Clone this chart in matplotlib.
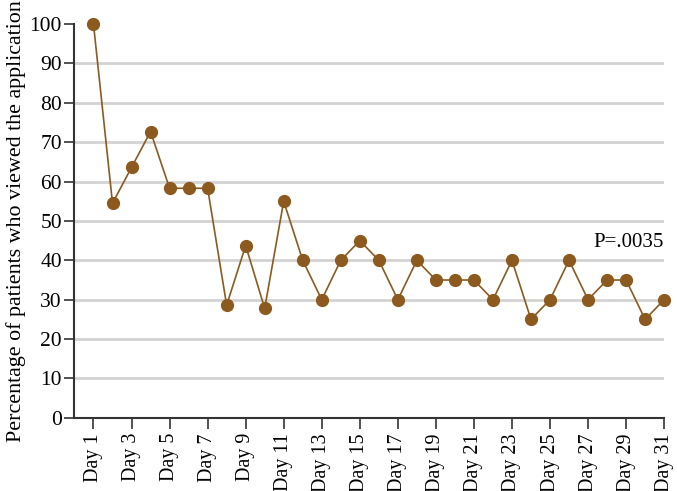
import numpy as np
import matplotlib.pyplot as plt

plt.rcParams['font.family'] = ['Liberation Serif', 'DejaVu Serif']

days = [f'Day {i}' for i in range(1, 32)]
percent = [100, 54.5, 63.6, 72.7, 58.3, 58.3, 58.3, 28.6, 43.75, 27.8,
           55, 40, 30, 40, 45, 40, 30, 40, 35, 35,
           35, 30, 40, 25, 30, 40, 30, 35, 35, 25, 30]
color = '#8c5a1e'

fig = plt.figure(figsize=(6.77, 4.91), dpi=100)
ax = fig.add_axes([0.110, 0.149, 0.871, 0.802])

x = np.arange(len(days))
ax.plot(x, percent, color=color, lw=1.2, marker='o', ms=8.5,
        mec=color, mfc=color, clip_on=False, zorder=3)

ax.set_xlim(-1, len(days) - 1)
ax.set_ylim(0, 100)
ax.set_yticks(range(0, 101, 10))
ax.set_xticks(x[::2])
ax.set_xticklabels(days[::2], rotation=90, fontsize=14.5)
ax.tick_params(axis='y', labelsize=15.5, length=7, width=1.2, color='#333333', pad=2)
ax.tick_params(axis='x', length=8, width=1.2, color='#333333', pad=3)

ax.grid(axis='y', color='#d3d3d3', lw=2)
ax.get_ygridlines()[-1].set_visible(False)
ax.get_ygridlines()[0].set_visible(False)
ax.set_axisbelow(True)

for s in ['top', 'right']:
    ax.spines[s].set_visible(False)
for s in ['left', 'bottom']:
    ax.spines[s].set_color('#333333')
    ax.spines[s].set_linewidth(1.5)

ax.set_ylabel('Percentage of patients who viewed the application', fontsize=15.8)
ax.yaxis.set_label_coords(-0.082, 0.5)
ax.text(len(days) - 1, 44.5, 'P=.0035', ha='right', va='center', fontsize=15)

fig.savefig('out.png', dpi=100)
